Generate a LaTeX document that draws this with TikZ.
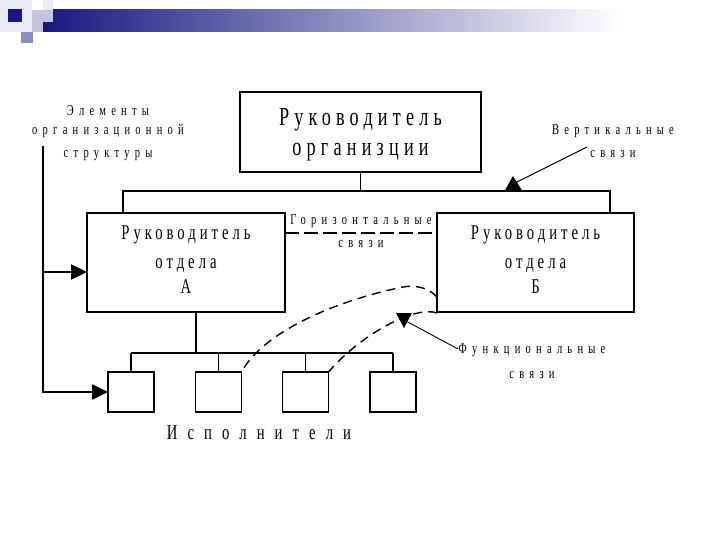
\documentclass[tikz,border=0pt]{standalone}
\usepackage{fontspec}
\usepackage{tikz}
\usetikzlibrary{arrows.meta, calc}
\newfontfamily\schemefont[FakeStretch=0.7]{Liberation Serif}
\definecolor{navy}{RGB}{24,24,128}
\definecolor{lavender}{RGB}{140,140,198}
\definecolor{palelav}{RGB}{196,196,226}
\definecolor{palest}{RGB}{234,234,244}
\tikzset{
    unitbox/.style={draw, line width=1.8pt, align=center, inner sep=0pt, outer sep=0pt},
    execbox/.style={draw, line width=1.8pt, minimum width=46pt, minimum height=40pt, inner sep=0pt, outer sep=0pt},
    wire/.style={line width=1.8pt},
    feed/.style={line width=2.4pt, -{Triangle[length=16pt, width=15pt]}},
    pointer/.style={line width=0.9pt},
    hlink/.style={line width=1.6pt, dash pattern=on 14pt off 5pt},
    flink/.style={line width=1.4pt, dash pattern=on 9pt off 6pt},
    headtext/.style={font=\schemefont\fontsize{26}{30}\selectfont\addfontfeature{LetterSpace=20}},
    unittext/.style={font=\schemefont\fontsize{21}{29}\selectfont\addfontfeature{LetterSpace=19}},
    smalltext/.style={align=center, inner sep=0pt, font=\schemefont\fontsize{15}{23}\selectfont\addfontfeature{LetterSpace=35}},
    bigtext/.style={inner sep=0pt, font=\schemefont\fontsize{21}{25}\selectfont\addfontfeature{LetterSpace=48}}
}

\begin{document}
\begin{tikzpicture}[x=1pt, y=-1pt]
        \fill[white] (0,0) rectangle (720,540);
        \useasboundingbox (0,0) rectangle (720,540);

        % header strip
        \shade[left color=navy, right color=white] (43,10) rectangle (620,32);
        \fill[palest] (0,0) rectangle (32,32);
        \fill[navy] (8,9) rectangle (22,22);
        \fill[palelav] (32,10) rectangle (53,22);
        \fill[palest] (43,0) rectangle (53,10);
        \fill[palelav] (32,22) rectangle (43,32);
        \fill[lavender] (21,32) rectangle (33,43);

        % units
        \node[unitbox, headtext, minimum width=241pt, minimum height=80pt] (head) at (360.5,132) {\rule{0pt}{23pt}Руководитель\\организции};
        \node[unitbox, unittext, minimum width=198pt, minimum height=99pt] (unitA) at (186,262.5) {Руководитель\\отдела\\[-3.5pt]А\rule[-5.5pt]{0pt}{0pt}};
        \node[unitbox, unittext, minimum width=197pt, minimum height=99pt] (unitB) at (535.5,262.5) {Руководитель\\отдела\\[-3.5pt]Б\rule[-5.5pt]{0pt}{0pt}};

        \node[execbox] (exec1) at (131,392) {};
        \node[execbox] (exec2) at (218.5,392) {};
        \node[execbox] (exec3) at (305.5,392) {};
        \node[execbox] (exec4) at (393,392) {};

        % labels
        \node[smalltext] (elems) at (108,133) {Элементы\\[-4pt]организационной\\структуры};
        \node[smalltext] (vlab) at (613,141) {Вертикальные\\связи};
        \node[smalltext] (flab) at (532,361) {Функциональные\\[2pt]связи};
        \node[bigtext] (execlbl) at (259,433) {Исполнители};

        % vertical links
        \coordinate (busL) at (123,191);
        \coordinate (busR) at (610,191);
        \draw[wire] (head.south) -- (head.south |- busL);
        \draw[wire] (busL |- unitA.north) -- (busL) -- (busR) -- (busR |- unitB.north);

        \coordinate (execbus) at (196,353);
        \draw[wire] (execbus |- unitA.south) -- (execbus);
        \draw[wire] (exec1.north |- execbus) -- (exec4.north |- execbus);
        \foreach \e in {exec1, exec2, exec3, exec4}
            \draw[wire] (\e.north) -- (\e.north |- execbus);

        % horizontal link
        \draw[hlink] (unitA.east |- 0,233) -- node[midway, smalltext, yshift=2pt] {Горизонтальные\\связи} (unitB.west |- 0,233);

        % functional links
        \draw[flink] (unitB.west |- 0,297) .. controls (428,287) and (415,285) .. (403,287)
            .. controls (330,302) and (262,334) .. (exec2.north east);
        \draw[flink] (unitB.west |- 0,313) .. controls (415,305) and (360,335) .. (exec3.north east);

        % element pointers
        \coordinate (elfrom) at (43,146);
        \coordinate (elbranch) at (43,272);
        \draw[feed] (elfrom) |- (exec1.west);
        \draw[feed] (elbranch) -- (unitA.west |- elbranch);

        \coordinate (vfrom) at (587,147);
        \coordinate (vtip) at (513,184);
        \draw[pointer] (vfrom) -- (vtip);
        \fill ($(vtip)+(-9,8)$) -- ($(vtip)+(0,-8)$) -- ($(vtip)+(10,8)$) -- cycle;

        \coordinate (ffrom) at (458,349);
        \coordinate (ftip) at (404,320);
        \draw[pointer] (ffrom) -- (ftip);
        \fill ($(ftip)+(-8,-7)$) -- ($(ftip)+(8,-7)$) -- ($(ftip)+(0,8)$) -- cycle;
    \end{tikzpicture}
\end{document}
